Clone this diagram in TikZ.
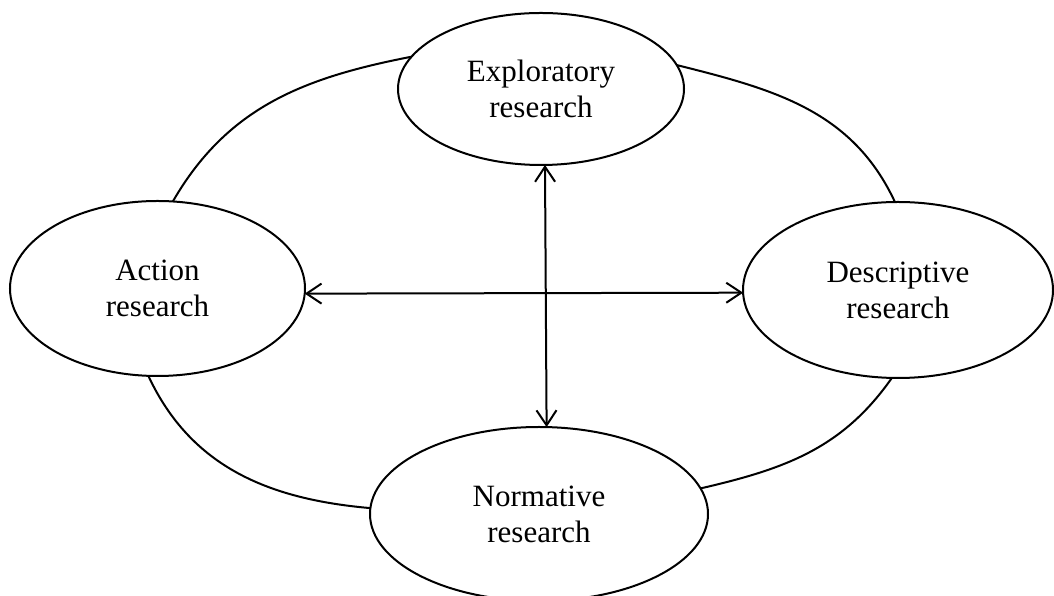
\documentclass[tikz,border=0pt]{standalone}
\usepackage{fontspec}
\setmainfont{Liberation Serif}
\usetikzlibrary{shapes.geometric,arrows.meta}
\begin{document}
\begin{tikzpicture}[x=1pt,y=1pt,
  line width=2pt,
  oval/.style={ellipse, draw, line width=2pt, inner sep=0pt, outer sep=0pt, align=center,
    font=\fontsize{31}{36}\selectfont},
  link/.style={line width=2pt},
  biarrow/.style={line width=2pt, {Straight Barb[length=15pt,width=20pt]}-{Straight Barb[length=15pt,width=20pt]}}]
\useasboundingbox (0,0) rectangle (1054,596);
\node[oval, minimum width=286pt, minimum height=152pt] (expl) at (541,507) {Exploratory\\research};
\node[oval, minimum width=295pt, minimum height=175pt] (act) at (157.5,307.5) {Action\\research};
\node[oval, minimum width=310pt, minimum height=176pt] (desc) at (898,306) {Descriptive\\research};
\node[oval, minimum width=338pt, minimum height=174pt] (norm) at (539,82) {Normative\\research};
\draw[link] (expl.166.8) to[out=191, in=60] (act.80.7);
\draw[link] (expl.10.8) to[out=-14, in=115] (desc.92.6);
\draw[link] (act.264.3) to[out=-65, in=175] (norm.178);
\draw[link] (desc.266.2) to[out=235, in=13] (norm.9);
\draw[biarrow] (expl.273.8) -- (norm.85.4);
\draw[biarrow] (act.-2.5) -- (desc.181.8);
\end{tikzpicture}
\end{document}
